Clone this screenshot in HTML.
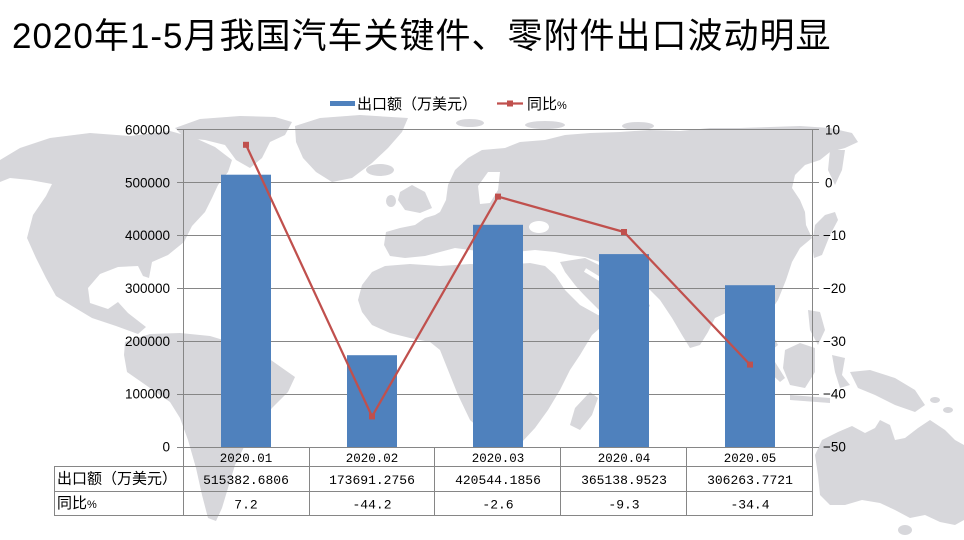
<!DOCTYPE html>
<html><head><meta charset="utf-8">
<style>
html,body{margin:0;padding:0;background:#fff;}
svg{display:block;}
</style></head>
<body>
<svg width="964" height="540" viewBox="0 0 964 540" xmlns="http://www.w3.org/2000/svg">
<rect width="964" height="540" fill="#ffffff"/>
<!-- world map -->
<g fill="#d7d7db">
  <!-- North America -->
  <path d="M0,160 L20,148 L50,138 L90,133 L130,136 L170,131 L195,138 L215,147 L232,160 L228,172 L218,185 L212,198 L205,212 L192,226 L184,242 L168,255 L152,262 L149,278 L143,276 L138,266 L118,267 L100,274 L88,288 L90,303 L108,309 L118,302 L128,313 L146,327 L138,334 L116,326 L92,318 L72,306 L56,296 L46,278 L36,258 L27,238 L33,215 L46,196 L52,184 L30,180 L10,178 L0,182 Z"/>
  <path d="M175,128 L200,119 L240,116 L275,117 L292,122 L285,135 L270,142 L262,158 L250,168 L236,160 L225,145 L205,140 L185,138 Z"/>
  <!-- Greenland -->
  <path d="M295,126 L320,118 L360,115 L408,118 L402,132 L388,148 L372,163 L352,178 L332,182 L316,172 L303,158 L296,142 Z"/>
  <ellipse cx="380" cy="170" rx="14" ry="6"/>
  <!-- Britain / Ireland -->
  <path d="M400,192 L412,185 L425,192 L432,208 L420,213 L405,210 L398,200 Z"/>
  <ellipse cx="391" cy="201" rx="5" ry="6"/>
  <!-- Arctic islands -->
  <ellipse cx="470" cy="123" rx="14" ry="4"/>
  <ellipse cx="545" cy="125" rx="20" ry="4"/>
  <ellipse cx="638" cy="126" rx="16" ry="4"/>
  <ellipse cx="745" cy="135" rx="16" ry="3"/>
  <!-- Eurasia -->
  <path d="M440,212 L446,200 L448,185 L455,170 L468,158 L482,150 L505,148 L520,142 L545,140 L565,135 L590,133 L620,132 L650,130 L680,131 L710,128 L740,128 L770,127 L800,126 L830,128 L852,133 L858,142 L845,148 L830,152 L820,160 L805,165 L795,175 L792,188 L800,200 L805,212 L806,225 L812,238 L800,248 L792,262 L786,280 L778,300 L768,315 L770,330 L778,345 L772,350 L762,338 L752,325 L740,318 L728,312 L715,318 L708,332 L700,345 L690,348 L682,335 L672,318 L660,300 L650,290 L640,286 L628,282 L615,270 L600,262 L585,257 L570,255 L555,252 L535,250 L515,252 L500,248 L485,252 L470,250 L455,248 L440,252 L425,256 L405,258 L390,256 L384,245 L386,232 L400,228 L415,225 L425,218 L435,215 Z"/>
  <path d="M830,150 L845,150 L842,170 L835,185 L828,170 Z"/>
  <!-- Japan -->
  <path d="M815,225 L825,215 L835,212 L838,220 L830,235 L822,255 L814,258 L812,245 Z"/>
  <!-- Arabia -->
  <path d="M560,262 L585,258 L605,268 L625,282 L645,296 L650,306 L638,316 L620,322 L605,316 L590,302 L575,285 L565,272 Z"/>
  <!-- Africa -->
  <path d="M358,300 L362,285 L372,272 L385,266 L410,264 L440,266 L470,264 L500,265 L530,263 L545,266 L555,275 L565,290 L580,305 L598,315 L610,318 L600,328 L592,335 L580,355 L570,370 L560,390 L548,410 L535,428 L522,442 L508,443 L490,438 L470,420 L458,395 L448,370 L440,350 L430,342 L410,338 L390,333 L372,325 L362,312 Z"/>
  <path d="M590,392 L598,398 L592,415 L580,430 L570,425 L575,408 Z"/>
  <!-- South America -->
  <path d="M125,342 L150,334 L180,333 L210,336 L240,345 L268,358 L295,377 L288,392 L272,408 L258,425 L245,445 L235,465 L228,488 L222,508 L216,521 L208,518 L202,495 L196,468 L188,440 L180,418 L170,402 L150,388 L127,372 L124,355 Z"/>
  <!-- SE Asia islands -->
  <path d="M748,340 L760,345 L775,362 L785,378 L780,382 L765,368 L752,352 Z"/>
  <path d="M785,350 L800,343 L815,348 L815,372 L805,388 L790,385 L783,368 Z"/>
  <path d="M790,395 L830,398 L830,403 L790,400 Z"/>
  <path d="M832,355 L845,358 L842,375 L850,385 L840,388 L835,372 Z"/>
  <path d="M808,310 L820,312 L825,330 L818,345 L810,330 Z"/>
  <path d="M850,372 L870,370 L895,378 L915,390 L925,405 L915,412 L895,405 L875,395 L858,388 Z"/>
  <ellipse cx="935" cy="400" rx="5" ry="3"/>
  <ellipse cx="948" cy="410" rx="5" ry="3"/>
  <!-- Australia -->
  <path d="M815,455 L822,440 L838,432 L852,426 L865,433 L875,428 L880,420 L890,425 L895,440 L905,438 L918,428 L930,420 L945,430 L955,440 L964,445 L964,520 L955,525 L940,522 L925,515 L910,518 L895,510 L880,503 L862,500 L845,505 L830,505 L820,495 L818,475 Z"/>
  <ellipse cx="905" cy="530" rx="7" ry="5"/>
</g>
<g fill="#ffffff">
  <path d="M478,186 L488,172 L500,172 L498,190 L490,203 L480,204 Z"/>
  <ellipse cx="539" cy="227" rx="10" ry="6"/>
</g>
<g stroke="#ffffff" fill="none">
  <line x1="552" y1="265" x2="603" y2="316" stroke-width="3"/>
  <line x1="585" y1="270" x2="608" y2="284" stroke-width="4"/>
</g>

<!-- gridlines -->
<g stroke="#868686" stroke-width="1">
  <line x1="177" y1="129.5" x2="819" y2="129.5"/>
  <line x1="177" y1="182.5" x2="819" y2="182.5"/>
  <line x1="177" y1="235.5" x2="819" y2="235.5"/>
  <line x1="177" y1="288.5" x2="819" y2="288.5"/>
  <line x1="177" y1="341.5" x2="819" y2="341.5"/>
  <line x1="177" y1="394.5" x2="819" y2="394.5"/>
</g>

<!-- bars -->
<g fill="#4f81bd">
  <rect x="221" y="174.7" width="50" height="272.3"/>
  <rect x="347" y="355.2" width="50" height="91.8"/>
  <rect x="473" y="224.8" width="50" height="222.2"/>
  <rect x="599" y="254.1" width="50" height="192.9"/>
  <rect x="725" y="285.2" width="50" height="161.8"/>
</g>

<!-- line -->
<polyline points="246,144.8 372,416.4 498,196.6 624,232 750,364.6" fill="none" stroke="#c0504d" stroke-width="2.25" stroke-linejoin="round"/>
<g fill="#c0504d">
  <rect x="243" y="141.8" width="6" height="6"/>
  <rect x="369" y="413.4" width="6" height="6"/>
  <rect x="495" y="193.6" width="6" height="6"/>
  <rect x="621" y="229" width="6" height="6"/>
  <rect x="747" y="361.6" width="6" height="6"/>
</g>

<!-- axes and table -->
<g stroke="#868686" stroke-width="1">
  <line x1="177" y1="447.5" x2="819" y2="447.5"/>
  <line x1="183.5" y1="129.5" x2="183.5" y2="516"/>
  <line x1="812.5" y1="129.5" x2="812.5" y2="516"/>
  <line x1="54" y1="466.5" x2="813" y2="466.5"/>
  <line x1="54" y1="491.5" x2="813" y2="491.5"/>
  <line x1="54" y1="515.5" x2="813" y2="515.5"/>
  <line x1="54.5" y1="466" x2="54.5" y2="516"/>
  <line x1="309.5" y1="447" x2="309.5" y2="516"/>
  <line x1="434.5" y1="447" x2="434.5" y2="516"/>
  <line x1="560.5" y1="447" x2="560.5" y2="516"/>
  <line x1="686.5" y1="447" x2="686.5" y2="516"/>
</g>

<!-- title -->
<text x="12" y="48" font-family="Liberation Sans, Noto Sans CJK SC, sans-serif" font-size="35" letter-spacing="1" fill="#000">2020年1-5月我国汽车关键件、零附件出口波动明显</text>

<!-- legend -->
<rect x="330" y="101" width="25" height="5" fill="#4f81bd"/>
<text x="357" y="109" font-family="Liberation Sans, Noto Sans CJK SC, sans-serif" font-size="15" fill="#000">出口额（万美元）</text>
<line x1="497" y1="103.5" x2="523" y2="103.5" stroke="#c0504d" stroke-width="2.25"/>
<rect x="507" y="100.5" width="6" height="6" fill="#c0504d"/>
<text x="527" y="109" font-family="Liberation Sans, Noto Sans CJK SC, sans-serif" font-size="15" fill="#000">同比<tspan font-size="11">%</tspan></text>

<!-- left axis labels -->
<g font-family="Liberation Sans, sans-serif" font-size="13.5" fill="#000" text-anchor="end">
  <text x="170" y="134.5">600000</text>
  <text x="170" y="187.3">500000</text>
  <text x="170" y="240.2">400000</text>
  <text x="170" y="293">300000</text>
  <text x="170" y="345.8">200000</text>
  <text x="170" y="398.7">100000</text>
  <text x="170" y="451.5">0</text>
</g>
<!-- right axis labels -->
<g font-family="Liberation Sans, sans-serif" font-size="13.5" fill="#000">
  <text x="825" y="134.5">10</text>
  <text x="825" y="187.3">0</text>
  <text x="823" y="240.2">−10</text>
  <text x="823" y="293">−20</text>
  <text x="823" y="345.8">−30</text>
  <text x="823" y="398.7">−40</text>
  <text x="823" y="451.5">−50</text>
</g>

<!-- table text -->
<g font-family="Liberation Mono, monospace" font-size="12.5" fill="#000" text-anchor="middle">
  <text x="246" y="462">2020.01</text>
  <text x="372" y="462">2020.02</text>
  <text x="498" y="462">2020.03</text>
  <text x="624" y="462">2020.04</text>
  <text x="750" y="462">2020.05</text>
</g>
<g font-family="Liberation Mono, monospace" font-size="13" fill="#000" text-anchor="middle">
  <text x="246" y="484">515382.6806</text>
  <text x="372" y="484">173691.2756</text>
  <text x="498" y="484">420544.1856</text>
  <text x="624" y="484">365138.9523</text>
  <text x="750" y="484">306263.7721</text>
  <text x="246" y="508.5">7.2</text>
  <text x="372" y="508.5">-44.2</text>
  <text x="498" y="508.5">-2.6</text>
  <text x="624" y="508.5">-9.3</text>
  <text x="750" y="508.5">-34.4</text>
</g>
<text x="57" y="483.5" font-family="Liberation Sans, Noto Sans CJK SC, sans-serif" font-size="15" fill="#000">出口额（万美元）</text>
<text x="57" y="508" font-family="Liberation Sans, Noto Sans CJK SC, sans-serif" font-size="15" fill="#000">同比<tspan font-size="11">%</tspan></text>
</svg>
</body></html>
